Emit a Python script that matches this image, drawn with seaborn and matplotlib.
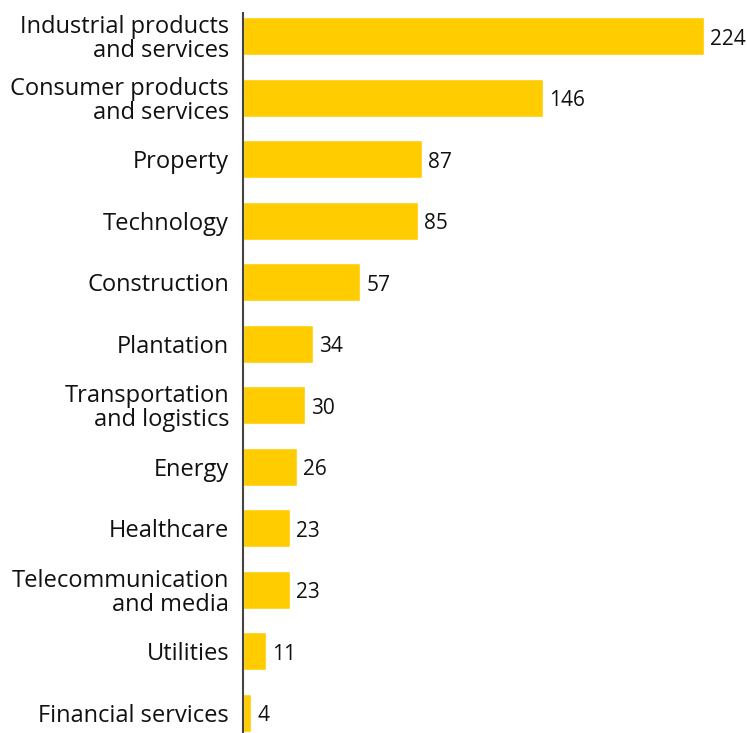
import matplotlib
matplotlib.use("Agg")
import matplotlib.pyplot as plt
import seaborn as sns
import pandas as pd

sectors = [
    "Industrial products\nand services",
    "Consumer products\nand services",
    "Property",
    "Technology",
    "Construction",
    "Plantation",
    "Transportation\nand logistics",
    "Energy",
    "Healthcare",
    "Telecommunication\nand media",
    "Utilities",
    "Financial services",
]
counts = [224, 146, 87, 85, 57, 34, 30, 26, 23, 23, 11, 4]

df = pd.DataFrame({"sector": sectors, "count": counts})

sns.set_theme(style="white")
plt.rcParams["font.family"] = ["Open Sans", "DejaVu Sans"]

fig = plt.figure(figsize=(7.47, 7.33), dpi=100)
ax = fig.add_axes([243 / 747, 0, 504 / 747, 720 / 733])

sns.barplot(data=df, x="count", y="sector", orient="h", color="#FFCC00",
            saturation=1, width=0.617, ax=ax)

ax.set_xlim(0, 244.9)
ax.set_ylim(11.325, -0.374)
ax.set_xlabel("")
ax.set_ylabel("")
ax.set_xticks([])

for s in ["top", "right", "bottom"]:
    ax.spines[s].set_visible(False)
ax.spines["left"].set_color("#444444")
ax.spines["left"].set_linewidth(1.5)

ax.tick_params(axis="y", length=0, pad=10, labelsize=17, labelcolor="#111111")
for lbl in ax.get_yticklabels():
    lbl.set_horizontalalignment("right")
    lbl.set_linespacing(1.0)

# value labels just past the end of each bar
for bar, c in zip(ax.containers[0], counts):
    y = bar.get_y() + bar.get_height() / 2
    ax.annotate(str(c), xy=(bar.get_width(), y), xytext=(6, -3),
                textcoords="offset pixels", ha="left", va="center",
                fontsize=15, color="#111111", annotation_clip=False)

fig.savefig("out.png", dpi=100)
